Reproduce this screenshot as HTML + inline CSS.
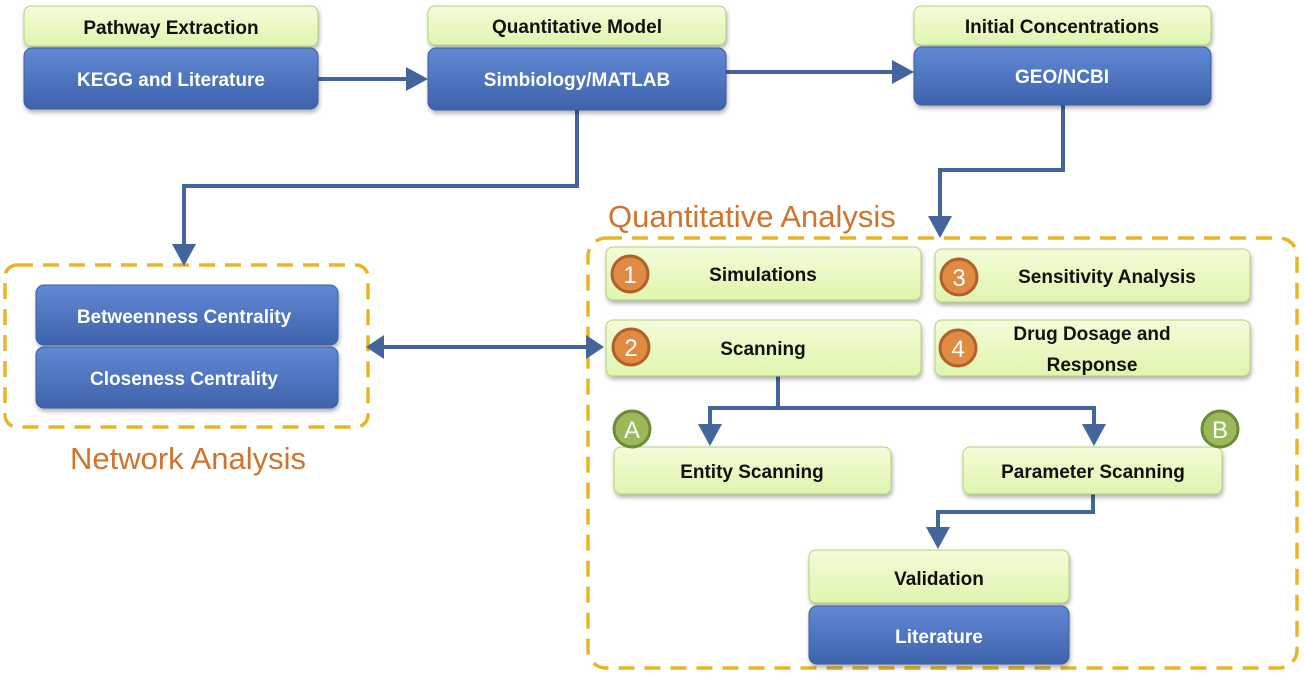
<!DOCTYPE html>
<html><head><meta charset="utf-8"><style>
html,body{margin:0;padding:0;background:#fff;}
svg{display:block;font-family:"Liberation Sans",sans-serif;}
.g{font-weight:bold;font-size:19px;fill:#111;}
.w{font-weight:bold;font-size:19px;fill:#fff;}
.n{font-size:24px;fill:#fff;}
</style></head><body>
<svg width="1304" height="677" viewBox="0 0 1304 677" xmlns="http://www.w3.org/2000/svg">
<defs>
<linearGradient id="gb" x1="0" y1="0" x2="0" y2="1"><stop offset="0" stop-color="#6189d4"/><stop offset="1" stop-color="#3e62ac"/></linearGradient>
<linearGradient id="gg" x1="0" y1="0" x2="0" y2="1"><stop offset="0" stop-color="#f4fcd8"/><stop offset="1" stop-color="#dff5ae"/></linearGradient>
<filter id="sh" x="-10%" y="-20%" width="120%" height="150%"><feDropShadow dx="1" dy="3" stdDeviation="2" flood-color="#000" flood-opacity="0.3"/></filter>
</defs>
<g fill="none" stroke="#e8b524" stroke-width="3.5" stroke-dasharray="16,10">
<rect x="5" y="265" width="363" height="162" rx="12"/>
<rect x="588" y="238" width="709" height="430" rx="18"/>
</g>
<g stroke="#44649c" stroke-width="4" fill="none">
<path d="M318,79 H410"/>
<path d="M726,72 H896"/>
<path d="M577,110 V186 H184 V248"/>
<path d="M1063,105 V170 H940 V220"/>
<path d="M382,347 H590"/>
<path d="M778,376 V408 H710 V428"/>
<path d="M778,408 H1094 V428"/>
<path d="M1093,494 V512 H938 V531"/>
</g>
<g fill="#44649c">
<path d="M428,79 L406,67 L406,91 z"/>
<path d="M914,72 L892,60 L892,84 z"/>
<path d="M184,266 L172,244 L196,244 z"/>
<path d="M940,238 L928,216 L952,216 z"/>
<path d="M710,446 L698,424 L722,424 z"/>
<path d="M1094,446 L1082,424 L1106,424 z"/>
<path d="M938,549 L926,527 L950,527 z"/>
<path d="M366,347 L384,335 L384,359 z"/>
<path d="M604,347 L586,335 L586,359 z"/>
</g>
<g filter="url(#sh)">
<rect x="24" y="6" width="294" height="40" rx="7" fill="url(#gg)" stroke="#b5d27c"/>
<rect x="24" y="48" width="294" height="61" rx="8" fill="url(#gb)" stroke="#3d5d9c"/>
<rect x="428" y="6" width="298" height="39" rx="7" fill="url(#gg)" stroke="#b5d27c"/>
<rect x="428" y="48" width="298" height="62" rx="8" fill="url(#gb)" stroke="#3d5d9c"/>
<rect x="914" y="6" width="297" height="39" rx="7" fill="url(#gg)" stroke="#b5d27c"/>
<rect x="914" y="47" width="297" height="58" rx="8" fill="url(#gb)" stroke="#3d5d9c"/>
<rect x="36" y="285" width="302" height="60" rx="8" fill="url(#gb)" stroke="#3d5d9c"/>
<rect x="36" y="347" width="302" height="61" rx="8" fill="url(#gb)" stroke="#3d5d9c"/>
<rect x="606" y="247" width="315" height="53" rx="7" fill="url(#gg)" stroke="#b5d27c"/>
<rect x="935" y="249" width="315" height="53" rx="7" fill="url(#gg)" stroke="#b5d27c"/>
<rect x="606" y="320" width="315" height="56" rx="7" fill="url(#gg)" stroke="#b5d27c"/>
<rect x="935" y="320" width="315" height="56" rx="7" fill="url(#gg)" stroke="#b5d27c"/>
<rect x="614" y="447" width="277" height="47" rx="7" fill="url(#gg)" stroke="#b5d27c"/>
<rect x="963" y="447" width="259" height="47" rx="7" fill="url(#gg)" stroke="#b5d27c"/>
<rect x="809" y="550" width="260" height="53" rx="7" fill="url(#gg)" stroke="#b5d27c"/>
<rect x="809" y="606" width="260" height="58" rx="8" fill="url(#gb)" stroke="#3d5d9c"/>
</g>
<g text-anchor="middle">
<text class="g" x="171" y="34">Pathway Extraction</text>
<text class="w" x="171" y="86">KEGG  and Literature</text>
<text class="g" x="577" y="33">Quantitative Model</text>
<text class="w" x="577" y="86">Simbiology/MATLAB</text>
<text class="g" x="1062" y="33">Initial Concentrations</text>
<text class="w" x="1062" y="83">GEO/NCBI</text>
<text class="w" x="184" y="323">Betweenness  Centrality</text>
<text class="w" x="184" y="385">Closeness Centrality</text>
<text class="g" x="763" y="281">Simulations</text>
<text class="g" x="1107" y="283">Sensitivity Analysis</text>
<text class="g" x="763" y="355">Scanning</text>
<text class="g" x="1092" y="340">Drug Dosage and</text>
<text class="g" x="1092" y="371">Response</text>
<text class="g" x="752" y="478">Entity Scanning</text>
<text class="g" x="1093" y="478">Parameter Scanning</text>
<text class="g" x="939" y="585">Validation</text>
<text class="w" x="939" y="643">Literature</text>
</g>
<text x="188" y="469" text-anchor="middle" font-size="31" fill="#d0742c">Network Analysis</text>
<text x="608" y="227" font-size="31" fill="#d0742c">Quantitative Analysis</text>
<g stroke-width="3">
<circle cx="630" cy="274" r="18" fill="#e08b44" stroke="#b0602a"/>
<circle cx="959" cy="277" r="18" fill="#e08b44" stroke="#b0602a"/>
<circle cx="631" cy="347" r="18" fill="#e08b44" stroke="#b0602a"/>
<circle cx="958" cy="348" r="18" fill="#e08b44" stroke="#b0602a"/>
<circle cx="632" cy="429" r="18" fill="#9ab95a" stroke="#6d8a35"/>
<circle cx="1220" cy="429" r="18" fill="#9ab95a" stroke="#6d8a35"/>
</g>
<g text-anchor="middle">
<text class="n" x="630" y="283">1</text>
<text class="n" x="959" y="286">3</text>
<text class="n" x="631" y="356">2</text>
<text class="n" x="958" y="357">4</text>
<text class="n" x="632" y="438">A</text>
<text class="n" x="1220" y="438">B</text>
</g>
</svg>
</body></html>
